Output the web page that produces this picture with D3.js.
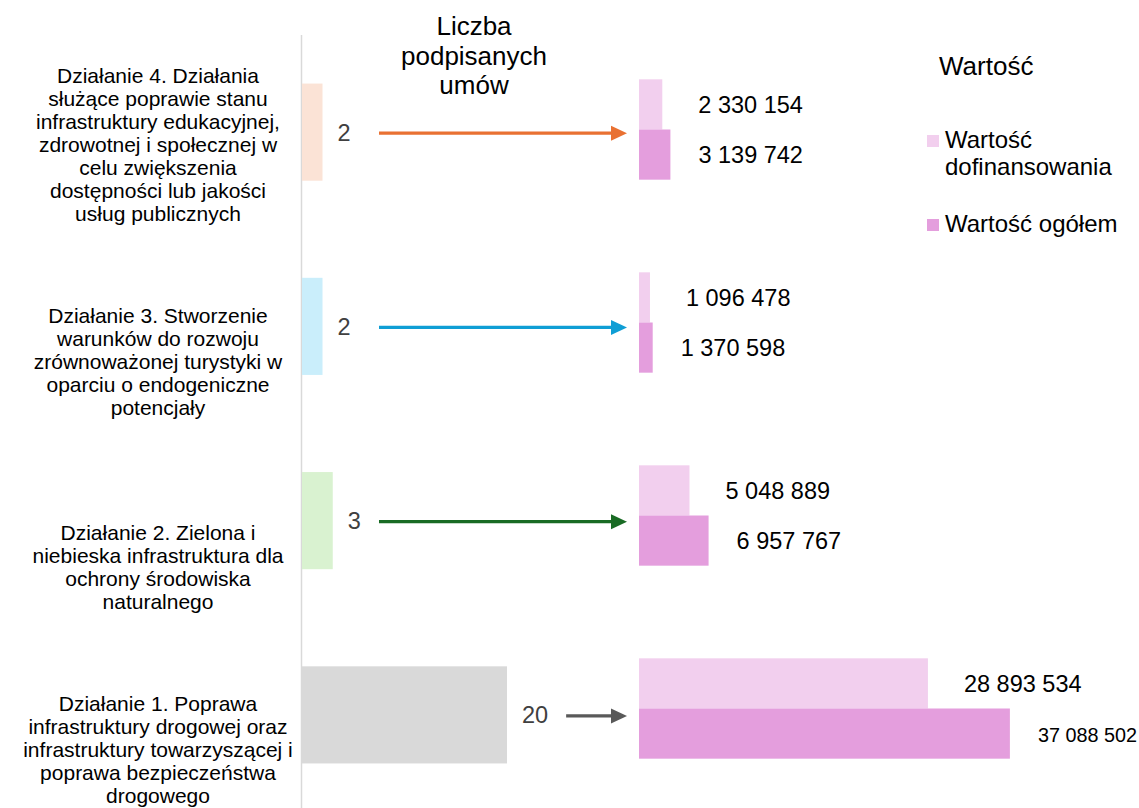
<!DOCTYPE html>
<html lang="pl">
<head>
<meta charset="utf-8">
<script src="https://cdn.jsdelivr.net/npm/d3@7"></script>
<style>
  html, body { margin: 0; padding: 0; background: #fff; }
  svg { display: block; font-family: "Liberation Sans", Arial, sans-serif; }
</style>
</head>
<body>
<svg id="chart" width="1139" height="808"></svg>
<script>
// ---- data ----
const categories = ['D4', 'D3', 'D2', 'D1'];
const categoryLines = [
  ['Działanie 4. Działania', 'służące poprawie stanu', 'infrastruktury edukacyjnej,',
   'zdrowotnej i społecznej w', 'celu zwiększenia', 'dostępności lub jakości', 'usług publicznych'],
  ['Działanie 3. Stworzenie', 'warunków do rozwoju', 'zrównoważonej turystyki w',
   'oparciu o endogeniczne', 'potencjały'],
  ['Działanie 2. Zielona i', 'niebieska infrastruktura dla', 'ochrony środowiska', 'naturalnego'],
  ['Działanie 1. Poprawa', 'infrastruktury drogowej oraz', 'infrastruktury towarzyszącej i',
   'poprawa bezpieczeństwa', 'drogowego']
];
const contracts = [2, 2, 3, 20];
const cofinancing = [2330154, 1096478, 5048889, 28893534];
const totals = [3139742, 1370598, 6957767, 37088502];
const series = ['Wartość dofinansowania', 'Wartość ogółem'];

const countColors = ['#fbe3d6', '#caeefb', '#d9f2d0', '#d9d9d9'];
const arrowColors = ['#e97132', '#0f9ed5', '#196b24', '#595959'];
const seriesColors = ['#f2cfee', '#e49edd'];

const W = 1139, H = 808;
const FONT_CAT = 21, FONT_NUM = 23.5, FONT_HEAD = 26, FONT_LEG = 24;

const fmt = d3.formatLocale({ decimal: ',', thousands: ' ', grouping: [3], currency: ['', ''] }).format(',d');

const svg = d3.select('#chart');

// ---- scales ----
const yL = d3.scaleBand().domain(categories).range([35, 812]).paddingInner(0.5).paddingOuter(0.25);
const yR = d3.scaleBand().domain(categories).range([33, 805]).paddingInner(0.48).paddingOuter(0.24);
const ySub = d3.scaleBand().domain(series).range([0, yR.bandwidth()]);
const xC = d3.scaleLinear().domain([0, 20]).range([302, 507]);
const xV = d3.scaleLinear().domain([0, 40e6]).range([639, 1039]);

const rows = categories.map((c, i) => ({
  key: c, lines: categoryLines[i], n: contracts[i],
  vals: [cofinancing[i], totals[i]], fill: countColors[i], arrow: arrowColors[i]
}));

// ---- vertical axis line ----
svg.append('line')
  .attr('x1', 301.5).attr('x2', 301.5).attr('y1', 35).attr('y2', H)
  .attr('stroke', '#d9d9d9').attr('stroke-width', 1.5);

// ---- category labels (bottom-anchored under each band) ----
const lineH = 23;
rows.forEach(d => {
  const lastBase = yL(d.key) + yL.bandwidth() + 40;
  const t = svg.append('text')
    .attr('text-anchor', 'middle').attr('font-size', FONT_CAT).attr('fill', '#000');
  d.lines.forEach((ln, j) => {
    t.append('tspan').attr('x', 158)
      .attr('y', lastBase - (d.lines.length - 1 - j) * lineH)
      .text(ln);
  });
});

// ---- contract count bars ----
svg.append('g').selectAll('rect').data(rows).join('rect')
  .attr('x', xC(0)).attr('y', d => yL(d.key))
  .attr('width', d => xC(d.n) - xC(0)).attr('height', yL.bandwidth())
  .attr('fill', d => d.fill);

const countLabels = svg.append('g').selectAll('text').data(rows).join('text')
  .attr('x', d => xC(d.n) + 15)
  .attr('y', d => yL(d.key) + yL.bandwidth() / 2 + FONT_NUM * 0.36)
  .attr('font-size', FONT_NUM).attr('fill', '#404040')
  .text(d => d.n);

// ---- arrows ----
const ARROW_X0 = 379, tip = xV(0) - 12, headL = 16, headW = 7.5;
countLabels.each(function(d) {
  const labelEnd = this.getBBox().x + this.getBBox().width;
  const x0 = Math.max(ARROW_X0, labelEnd + 18);
  const cy = yL(d.key) + yL.bandwidth() / 2 + 1;
  svg.append('line')
    .attr('x1', x0).attr('x2', tip - headL + 1).attr('y1', cy).attr('y2', cy)
    .attr('stroke', d.arrow).attr('stroke-width', 3.2);
  svg.append('path')
    .attr('d', `M${tip - headL},${cy - headW}L${tip},${cy}L${tip - headL},${cy + headW}Z`)
    .attr('fill', d.arrow);
});

// ---- value bars ----
const groups = svg.append('g').selectAll('g').data(rows).join('g')
  .attr('transform', d => `translate(0,${yR(d.key)})`);

const labelOffset = [36, 28];
series.forEach((s, k) => {
  groups.append('rect')
    .attr('x', xV(0)).attr('y', ySub(s))
    .attr('width', d => xV(d.vals[k]) - xV(0)).attr('height', ySub.bandwidth())
    .attr('fill', seriesColors[k]);
  groups.append('text')
    .attr('x', d => xV(d.vals[k]) + labelOffset[k])
    .attr('y', ySub(s) + ySub.bandwidth() / 2 + FONT_NUM * 0.36)
    .attr('font-size', FONT_NUM).attr('fill', '#000')
    .text(d => fmt(d.vals[k]))
    .each(function() {
      // shrink labels that would run off the right edge
      const x = +this.getAttribute('x');
      const len = this.getComputedTextLength();
      if (x + len > W - 2) d3.select(this).attr('font-size', FONT_NUM * (W - 2 - x) / len);
    });
});

// ---- headings ----
const head = svg.append('text').attr('text-anchor', 'middle')
  .attr('font-size', FONT_HEAD).attr('fill', '#000');
['Liczba', 'podpisanych', 'umów'].forEach((t, j) => {
  head.append('tspan').attr('x', 474).attr('y', 35 + j * 29.5).text(t);
});
svg.append('text').attr('x', 939).attr('y', 75)
  .attr('font-size', FONT_HEAD).attr('fill', '#000').text('Wartość');

// ---- legend ----
const legendItems = [
  { lines: ['Wartość', 'dofinansowania'], color: seriesColors[0], y: 148 },
  { lines: ['Wartość ogółem'], color: seriesColors[1], y: 232 }
];
legendItems.forEach(it => {
  svg.append('rect').attr('x', 927).attr('y', it.y - 13).attr('width', 12).attr('height', 12)
    .attr('fill', it.color);
  const t = svg.append('text').attr('font-size', FONT_LEG).attr('fill', '#000');
  it.lines.forEach((ln, j) => {
    t.append('tspan').attr('x', 945).attr('y', it.y + j * 27).text(ln);
  });
});
</script>
</body>
</html>
